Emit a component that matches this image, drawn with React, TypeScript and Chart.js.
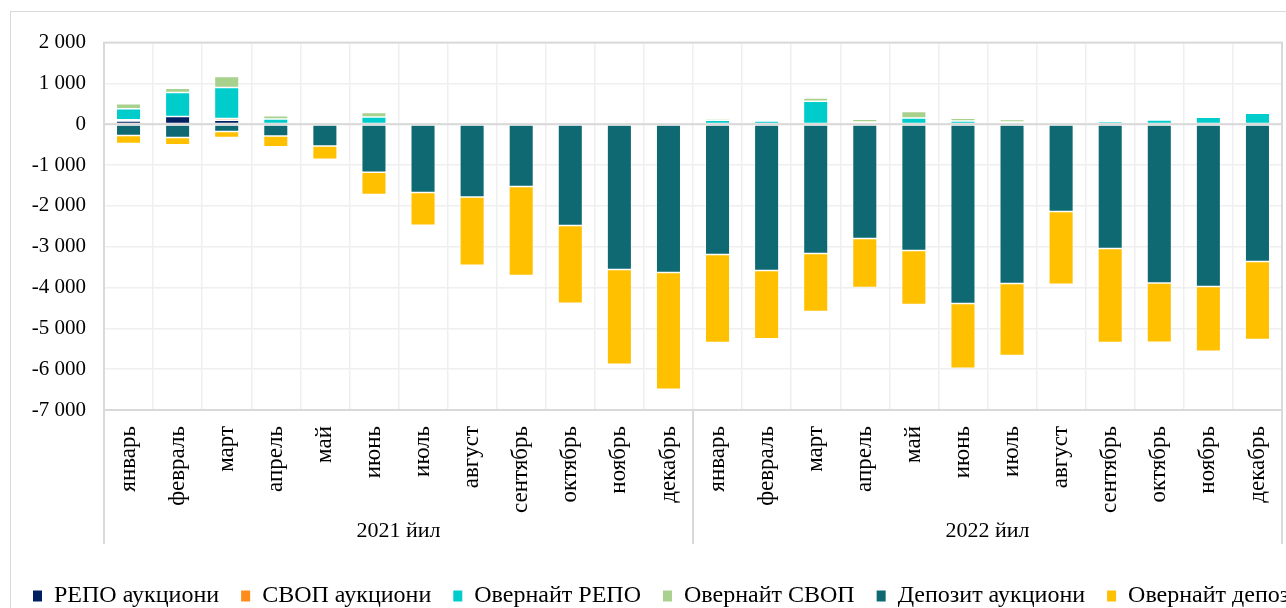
import React, { useEffect, useRef } from "react";
import { Chart, registerables } from "chart.js";

Chart.register(...registerables);

const months = ["январь", "февраль", "март", "апрель", "май", "июнь", "июль", "август", "сентябрь", "октябрь", "ноябрь", "декабрь"];
const categories = [...months, ...months];
const years = ["2021 йил", "2022 йил"];

const seriesNames = ["РЕПО аукциони", "СВОП аукциони", "Овернайт РЕПО", "Овернайт СВОП", "Депозит аукциони", "Овернайт депозит"];
const seriesColors = ["#002060", "#FF8C1A", "#00CCCC", "#A9D18E", "#0E6973", "#FFC000"];

const repoAuction = [80, 188, 100, 0, 0, 0, 0, 0, 0, 0, 0, 0, 0, 0, 0, 0, 0, 0, 0, 0, 0, 0, 0, 0];
const swapAuction = [30, 0, 40, 0, 0, 0, 0, 0, 0, 0, 0, 0, 0, 0, 0, 0, 0, 0, 0, 0, 0, 0, 0, 0];
const overnightRepo = [270, 587, 758, 130, 0, 179, 30, 57, 0, 20, 0, 49, 98, 82, 563, 57, 155, 82, 57, 0, 65, 106, 171, 269];
const overnightSwap = [122, 106, 269, 81, 49, 106, 0, 0, 49, 30, 0, 0, 41, 25, 82, 65, 155, 65, 57, 0, 0, 33, 25, 0];
const depositAuction = [-277, -326, -180, -285, -530, -1176, -1673, -1780, -1527, -2482, -3559, -3633, -3192, -3584, -3167, -2800, -3094, -4392, -3902, -2139, -3045, -3886, -3976, -3363];
const overnightDeposit = [-196, -179, -147, -269, -326, -547, -800, -1673, -2180, -1902, -2318, -2857, -2155, -1673, -1420, -1200, -1322, -1584, -1763, -1780, -2302, -1453, -1584, -1910];

const seriesValues = [repoAuction, swapAuction, overnightRepo, overnightSwap, depositAuction, overnightDeposit];

const yMin = -7000;
const yMax = 2000;
const yStep = 1000;

const FONT = '"Liberation Serif", "Times New Roman", serif';

function fmt(v: number): string {
  const s = String(Math.abs(v)).replace(/\B(?=(\d{3})+(?!\d))/g, " ");
  return (v < 0 ? "-" : "") + s;
}

const decor = {
  id: "decor",
  afterDatasetsDraw(chart: any) {
    const { ctx, chartArea: a, scales } = chart;
    const x = scales.x;
    const y = scales.y;
    ctx.save();
    ctx.strokeStyle = "#d9d9d9";
    ctx.lineWidth = 2;
    const line = (x1: number, y1: number, x2: number, y2: number) => {
      ctx.beginPath();
      ctx.moveTo(x1, y1);
      ctx.lineTo(x2, y2);
      ctx.stroke();
    };
    const y0 = y.getPixelForValue(0);
    line(a.left, y0, a.right, y0);
    ctx.strokeRect(a.left, a.top, a.right - a.left, a.bottom - a.top);
    const sep = (x.getPixelForValue(11) + x.getPixelForValue(12)) / 2;
    [a.left, sep, a.right].forEach((px: number) => line(px, a.bottom, px, a.bottom + 134));
    ctx.font = `22px ${FONT}`;
    ctx.fillStyle = "#000";
    ctx.textAlign = "center";
    ctx.textBaseline = "middle";
    ctx.fillText(years[0], (a.left + sep) / 2, a.bottom + 121);
    ctx.fillText(years[1], (sep + a.right) / 2, a.bottom + 121);
    ctx.restore();
  },
};

export default function App() {
  const ref = useRef<HTMLCanvasElement | null>(null);

  useEffect(() => {
    if (!ref.current) return;
    const chart = new Chart(ref.current, {
      type: "bar",
      data: {
        labels: categories,
        datasets: seriesNames.map((name, i) => ({
          label: name,
          data: seriesValues[i],
          backgroundColor: seriesColors[i],
          borderColor: "rgba(255,255,255,0.3)",
          borderWidth: 0.75,
          borderSkipped: false,
          barPercentage: 0.5,
          categoryPercentage: 1,
          yAxisID: "y",
        })),
      },
      options: {
        animation: false,
        responsive: true,
        maintainAspectRatio: false,
        layout: { padding: { top: 29, right: 0, left: 0, bottom: 0 } },
        plugins: {
          title: { display: false },
          tooltip: { enabled: false },
          legend: {
            position: "bottom",
            align: "start",
            labels: {
              color: "#000",
              font: { family: FONT, size: 24 },
              boxWidth: 9,
              boxHeight: 11,
              padding: 22,
              generateLabels: (c: any) =>
                Chart.defaults.plugins.legend.labels.generateLabels(c).map((l: any) => ({ ...l, lineWidth: 0, strokeStyle: "rgba(0,0,0,0)" })),
            },
          },
        },
        scales: {
          x: {
            stacked: true,
            grid: { offset: true, color: "#efefef", lineWidth: 1.5, drawTicks: false },
            border: { display: false },
            ticks: {
              color: "#000",
              font: { family: FONT, size: 23 },
              minRotation: 90,
              maxRotation: 90,
              autoSkip: false,
              padding: 16,
            },
            afterFit: (s: any) => {
              s.height = 152;
            },
          },
          y: {
            stacked: true,
            min: yMin,
            max: yMax,
            grid: { color: "#efefef", lineWidth: 1.5, drawTicks: false },
            border: { display: false },
            ticks: {
              stepSize: yStep,
              color: "#000",
              font: { family: FONT, size: 21 },
              padding: 18,
              callback: (v: any) => fmt(Number(v)),
            },
            afterFit: (s: any) => {
              s.width = 93;
            },
          },
          spacer: {
            type: "linear",
            position: "right",
            display: true,
            grid: { display: false, drawOnChartArea: false },
            border: { display: false },
            ticks: { display: false },
            afterFit: (s: any) => {
              s.width = 89;
            },
          },
        },
      },
      plugins: [decor],
    });
    return () => chart.destroy();
  }, []);

  return (
    <div style={{ position: "fixed", left: 0, top: 0, width: "100vw", height: "100vh", overflow: "hidden", background: "#fff" }}>
      <div
        style={{
          position: "absolute",
          left: 10,
          top: 11,
          width: 1360,
          height: 606,
          border: "1px solid #d9d9d9",
        }}
      >
        <canvas ref={ref} />
      </div>
    </div>
  );
}
